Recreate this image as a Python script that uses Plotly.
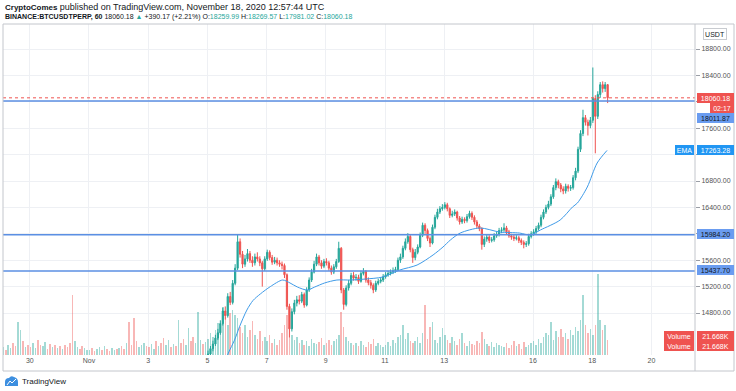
import plotly.graph_objects as go
import pandas as pd

# ---------------- data ----------------
candle_start = "2020-11-05 00:30"   # 2-hour bars
first_open = 14140
closes = [14180,14260,14330,14420,14500,14640,14830,14760,15050,14960,15250,15480,
          15880,15690,15540,15620,15700,15600,15560,15650,15620,15560,15470,15620,
          15720,15640,15570,15600,15560,15540,15520,15380,14900,14560,14820,14950,
          15000,14980,15080,14920,15150,15300,15420,15540,15650,15560,15510,15580,
          15560,15480,15420,15500,15580,15780,15150,14930,15180,15250,15370,15330,
          15340,15280,15400,15430,15300,15260,15220,15150,15250,15280,15300,15350,
          15380,15400,15420,15440,15460,15600,15650,15780,15880,15960,15760,15640,
          15720,15800,15980,16130,16050,15930,15860,16100,16250,16330,16380,16400,
          16440,16380,16280,16300,16330,16240,16180,16220,16200,16260,16310,16250,
          16180,16120,16080,15840,15920,15950,15900,15910,15970,15990,16050,16060,
          16090,16030,15970,15950,15930,15940,15900,15870,15840,15850,15960,16000,
          16030,16080,16130,16250,16330,16400,16450,16560,16700,16790,16740,16680,
          16650,16720,16690,16700,16850,16950,17280,17520,17760,17690,17640,17720,
          18050,17780,18110,18260,18200,18259.99,18060.18]
highs = [14230,14300,14380,14470,14560,14690,14880,14900,15100,15120,15300,15540,
         15990,15930,15740,15680,15770,15740,15660,15700,15720,15660,15590,15660,
         15760,15750,15680,15650,15640,15600,15580,15550,15400,14940,14870,15000,
         15060,15070,15120,15110,15190,15340,15470,15590,15700,15680,15600,15620,
         15630,15590,15520,15540,15620,15880,15800,15180,15220,15300,15410,15420,
         15390,15380,15440,15480,15450,15340,15300,15250,15290,15320,15340,15390,
         15420,15440,15460,15490,15500,15640,15700,15820,15930,16010,15980,15790,
         15770,15840,16020,16170,16160,16080,15960,16140,16290,16380,16420,16450,
         16480,16470,16400,16350,16370,16350,16270,16260,16250,16300,16350,16340,
         16280,16210,16150,16100,15960,15990,15980,15950,16010,16030,16090,16100,
         16160,16120,16060,16000,15990,15980,15970,15930,15900,15890,16000,16040,
         16070,16120,16170,16290,16370,16440,16500,16600,16740,16840,16820,16770,
         16720,16760,16750,16740,16890,17000,17320,17570,17880,17800,17730,17770,
         18520,18100,18160,18300,18310,18300,18269.57]
lows = [14100,14150,14220,14300,14390,14470,14610,14700,14730,14920,14930,15220,
        15450,15640,15480,15500,15580,15560,15500,15520,15580,15510,15200,15440,
        15590,15600,15530,15540,15520,15500,15460,15330,14850,14430,14520,14780,
        14900,14930,14950,14880,14900,15120,15270,15400,15510,15520,15470,15480,
        15520,15440,15380,15390,15470,15560,15100,14850,14900,15140,15220,15290,
        15290,15240,15260,15370,15260,15220,15170,15100,15120,15220,15250,15270,
        15320,15350,15370,15390,15410,15440,15560,15620,15750,15850,15720,15560,
        15600,15690,15780,15950,16000,15890,15800,15840,16070,16220,16300,16350,
        16370,16340,16240,16250,16270,16200,16140,16150,16160,16170,16230,16210,
        16140,16080,16040,15760,15800,15880,15860,15870,15880,15940,15960,16010,
        16030,15990,15940,15910,15890,15900,15860,15830,15780,15800,15820,15930,
        15970,16000,16050,16100,16220,16300,16370,16420,16530,16660,16690,16630,
        16600,16610,16640,16650,16670,16810,16920,17240,17480,17640,17490,17600,
        17680,17220,17740,18060,18140,18150,17981.02]

vol_start = "2020-10-29 00:30"     # 2-hour volume bars, thousands
vol_k = [9,12,7,15,10,17,13,48,36,20,12,14,
         12,17,10,22,15,13,19,9,16,12,15,10,
         13,9,15,12,17,87,20,12,9,13,10,7,
         7,10,6,9,12,7,13,9,6,10,7,9,
         10,13,9,17,48,15,54,20,12,15,17,13,
         12,16,9,20,13,17,25,15,22,12,16,13,
         51,17,23,15,39,20,26,17,62,22,16,19,
         23,32,26,36,46,41,70,55,44,61,65,58,
         54,41,32,44,26,36,49,29,23,35,20,26,
         20,29,17,23,15,22,32,44,58,51,29,22,
         26,17,22,15,20,13,23,17,16,19,25,15,
         17,22,15,20,23,29,62,41,26,20,17,15,
         17,13,20,15,12,19,16,23,13,17,15,12,
         15,19,13,22,17,26,29,44,23,32,20,17,
         20,26,17,32,73,23,41,48,22,17,26,39,
         29,22,17,26,20,15,23,32,17,13,20,16,
         15,20,17,33,23,16,13,19,12,17,15,13,
         12,17,10,15,20,13,16,9,19,12,15,17,
         20,15,23,17,26,32,29,48,22,35,26,38,
         26,32,23,36,29,41,35,51,87,44,32,38,
         29,44,117,51,36,44,21.668]
# direction of the bars before the first visible candle (u = up, d = down)
early_dirs = ("uuduudduudud" "duudduuddudu" "dudddduudduu" "udduududduud"
              "uddudddduuud" "duududduudud" "udduudduuudu")

ema_times = ["2020-11-05 12:00","2020-11-05 17:00","2020-11-05 22:00","2020-11-06 02:00",
             "2020-11-06 08:00","2020-11-06 13:00","2020-11-06 19:00","2020-11-07 03:00",
             "2020-11-07 13:00","2020-11-07 19:00","2020-11-08 01:00","2020-11-08 09:00",
             "2020-11-08 15:00","2020-11-08 23:00","2020-11-09 09:00","2020-11-09 20:00",
             "2020-11-10 08:00","2020-11-10 22:00","2020-11-11 12:00","2020-11-12 02:00",
             "2020-11-12 15:00","2020-11-12 23:00","2020-11-13 05:00","2020-11-13 13:00",
             "2020-11-14 05:00","2020-11-14 21:00","2020-11-15 13:00","2020-11-15 22:00",
             "2020-11-16 06:00","2020-11-16 22:00","2020-11-17 08:00","2020-11-17 12:00",
             "2020-11-17 20:00","2020-11-18 04:00","2020-11-18 12:00"]
ema_vals = [13950,14194,14390,14590,14845,14990,15090,15200,15300,15255,15194,15148,
            15194,15255,15300,15300,15315,15345,15452,15527,15680,15800,15906,16012,
            16088,16027,16012,15982,16058,16209,16406,16467,16709,17073,17263.28]

hlines = [18011.87, 15984.20, 15437.70]
last_price = 18060.18
ema_last = 17263.28

x_tick_vals = ["2020-10-30","2020-11-01","2020-11-03","2020-11-05","2020-11-07","2020-11-09",
               "2020-11-11","2020-11-13","2020-11-16","2020-11-18","2020-11-20"]
x_tick_text = ["30","Nov","3","5","7","9","11","13","16","18","20"]
y_tick_vals = [14800,15200,15600,16000,16400,16800,17200,17600,18000,18400,18800]
# tick texts hidden behind the price-scale labels in the original
y_tick_text = ["14800.00","15200.00","15600.00","","16400.00","16800.00","",
               "17600.00","","18400.00","18800.00"]

# ---------------- geometry helpers ----------------
W, H = 736, 391
ML, MR, MT, MB = 3, 41, 24, 36
PW, PH = W - ML - MR, H - MT - MB
def px(x): return (x - ML) / PW
def py(y): return (H - MB - y) / PH

UP, DN = "#26a69a", "#ef5350"
VUP, VDN = "rgba(38,166,154,0.42)", "rgba(239,83,80,0.42)"
BLUE_LINE = "#5b8fe3"
FONT = "Liberation Sans"

opens = [first_open] + closes[:-1]
candle_times = pd.date_range(candle_start, periods=len(closes), freq="2h")
vol_times = pd.date_range(vol_start, periods=len(vol_k), freq="2h")
vol_colors = []
for j in range(len(vol_k)):
    if j < len(early_dirs):
        vol_colors.append(VUP if early_dirs[j] == "u" else VDN)
    else:
        k = j - len(early_dirs)
        vol_colors.append(VUP if closes[k] >= opens[k] else VDN)

fig = go.Figure()
fig.add_trace(go.Bar(x=vol_times, y=vol_k, marker=dict(color=vol_colors, line=dict(width=0)),
                     width=2 * 3600 * 1000 * 0.62, yaxis="y", showlegend=False))
fig.add_trace(go.Candlestick(x=candle_times, open=opens, high=highs, low=lows, close=closes,
                             yaxis="y2", whiskerwidth=0,
                             increasing=dict(line=dict(color=UP, width=1), fillcolor=UP),
                             decreasing=dict(line=dict(color=DN, width=1), fillcolor=DN),
                             showlegend=False))
fig.add_trace(go.Scatter(x=ema_times, y=ema_vals, mode="lines", yaxis="y2",
                         line=dict(color="#3f9be8", width=1, shape="spline", smoothing=0.8),
                         showlegend=False))

shapes = []
for v in hlines:
    shapes.append(dict(type="line", xref="paper", x0=0, x1=1, yref="y2", y0=v, y1=v,
                       line=dict(color=BLUE_LINE, width=1.5)))
shapes.append(dict(type="line", xref="paper", x0=0, x1=1, yref="y2", y0=last_price, y1=last_price,
                   line=dict(color=DN, width=1, dash="dot")))
# frame + price-axis separator
shapes.append(dict(type="rect", xref="paper", yref="paper", x0=px(3), x1=px(734), y0=py(371), y1=py(24),
                   line=dict(color="#c3c6cc", width=1)))
shapes.append(dict(type="line", xref="paper", yref="paper", x0=px(695), x1=px(695), y0=py(371), y1=py(24),
                   line=dict(color="#c3c6cc", width=1)))
# TradingView logo (small cloud)
def P(x, y): return f"{px(x):.5f},{py(y):.5f}"
logo = (f"M {P(5,386)} L {P(5,382)} Q {P(5,378)} {P(9,378)} Q {P(11,375)} {P(14,377)} "
        f"Q {P(18,378)} {P(18,382)} L {P(18,386)} Z")
shapes.append(dict(type="path", xref="paper", yref="paper", path=logo,
                   fillcolor="#3d8fe0", line=dict(width=0)))
shapes.append(dict(type="path", xref="paper", yref="paper",
                   path=f"M {P(7,385)} L {P(10,381)} L {P(12,383)} L {P(16,379)}",
                   line=dict(color="white", width=1)))

ann = []
def label(text, yc, x0, x1, bg, fg, border=None):
    ann.append(dict(xref="paper", yref="paper", x=px(x0), y=py(yc), xanchor="left", yanchor="middle",
                    text=text, showarrow=False, align="center", width=x1 - x0 - 2, height=8,
                    bgcolor=bg, borderpad=1, bordercolor=border or bg, borderwidth=0 if border is None else 1,
                    font=dict(family=FONT, size=7, color=fg)))

label(f"{last_price:.2f}", 97.5, 697, 734, DN, "white")
label("02:17", 108, 710, 734, DN, "white")
label(f"{hlines[0]:.2f}", 118, 697, 734, "#6a9cf0", "#131722")
label("EMA", 150, 675, 694, "#2196f3", "white")
label(f"{ema_last:.2f}", 150, 697, 734, "#2196f3", "white")
label(f"{hlines[1]:.2f}", 234, 697, 734, "#6a9cf0", "#131722")
label(f"{hlines[2]:.2f}", 270, 697, 734, "#6a9cf0", "#131722")
label("Volume", 336, 664, 694, DN, "white")
label(f"{vol_k[-1]:.3f}K", 336, 697, 734, DN, "white")
label("Volume", 345.5, 664, 694, DN, "white")
label(f"{vol_k[-1]:.3f}K", 345.5, 697, 734, DN, "white")
label("USDT", 34, 703, 725, "white", "#131722", border="#c8cbd0")

G = "#26a69a"
ann.append(dict(xref="paper", yref="paper", x=px(3), y=py(6.5), xanchor="left", yanchor="middle",
                showarrow=False, align="left",
                text=("<b>CryptoComes</b> <span style='font-size:9px'>published on TradingView.com, "
                      "November 18, 2020 12:57:44 UTC</span>"),
                font=dict(family=FONT, size=8, color="#131722")))
ann.append(dict(xref="paper", yref="paper", x=px(3), y=py(16.5), xanchor="left", yanchor="middle",
                showarrow=False, align="left",
                text=(f"<b>BINANCE:BTCUSDTPERP, 60</b> 18060.18 <span style='color:{G}'>▲</span> "
                      f"+390.17 (+2.21%) O:<span style='color:{G}'>18259.99</span> "
                      f"H:<span style='color:{G}'>18269.57</span> L:<span style='color:{G}'>17981.02</span> "
                      f"C:<span style='color:{G}'>18060.18</span>"),
                font=dict(family=FONT, size=7, color="#131722")))
ann.append(dict(xref="paper", yref="paper", x=px(20), y=py(381), xanchor="left", yanchor="middle",
                showarrow=False, text="TradingView", font=dict(family=FONT, size=8, color="#131722")))

fig.update_layout(
    width=W, height=H, margin=dict(l=ML, r=MR, t=MT, b=MB),
    paper_bgcolor="white", plot_bgcolor="white", showlegend=False,
    shapes=shapes, annotations=ann, bargap=0,
    xaxis=dict(type="date", range=["2020-10-29 02:17", "2020-11-21 11:20"],
               tickvals=x_tick_vals, ticktext=x_tick_text, showgrid=True, gridcolor="#eef0f4",
               gridwidth=1, zeroline=False, showline=False, ticks="",
               tickfont=dict(family=FONT, size=7, color="#555"), rangeslider=dict(visible=False)),
    yaxis=dict(range=[0, 480], visible=False, fixedrange=True),
    yaxis2=dict(overlaying="y", side="right", anchor="x", range=[14164, 19179],
                tickvals=y_tick_vals, ticktext=y_tick_text, showgrid=True, gridcolor="#eef0f4",
                zeroline=False, showline=False, ticks="outside", ticklen=4, tickcolor="#9a9ea6",
                tickfont=dict(family=FONT, size=7, color="#555")),
)

fig.write_html("out.html", config={"displayModeBar": False},
               post_script="document.body.style.margin='0';document.body.style.overflow='hidden';")
